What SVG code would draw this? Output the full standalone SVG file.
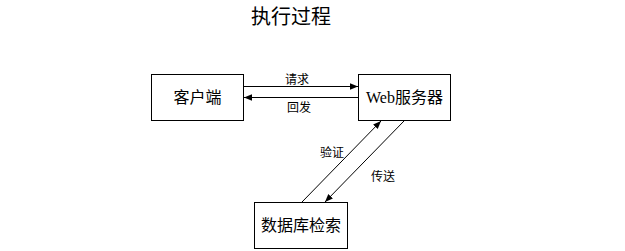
<svg xmlns="http://www.w3.org/2000/svg" width="625" height="251" viewBox="0 0 625 251">
<style>
.box{fill:#fff;stroke:#000;stroke-width:1}
.t{font-family:"Liberation Serif","Noto Sans CJK SC",serif;fill:#000;text-anchor:middle}
.n{font-size:16px}
.l{font-size:12px}
.c{stroke:#000;stroke-width:1;fill:none;marker-end:url(#a)}
</style>
<defs>
<marker id="a" viewBox="0 0 10 10" refX="10" refY="5" markerWidth="8" markerHeight="8" markerUnits="userSpaceOnUse" orient="auto">
<path d="M0,1 L10,5 L0,9 z" fill="#000"/>
</marker>
</defs>
<rect width="625" height="251" fill="#fff"/>
<text class="t" x="291" y="24" font-size="20">执行过程</text>
<g id="client"><rect class="box" x="151.5" y="74.5" width="92" height="46"/><text class="t n" x="197.5" y="103">客户端</text></g>
<g id="web"><rect class="box" x="358.5" y="74.5" width="92" height="46"/><text class="t n" x="404.5" y="103">Web服务器</text></g>
<g id="db"><rect class="box" x="254.5" y="202.5" width="93" height="46"/><text class="t n" x="301" y="231">数据库检索</text></g>
<g id="connectors">
<line class="c" x1="244" y1="86.5" x2="358" y2="86.5"/>
<line class="c" x1="358" y1="97.5" x2="244" y2="97.5"/>
<line class="c" x1="302" y1="202" x2="381" y2="121"/>
<line class="c" x1="404" y1="121" x2="325" y2="202"/>
<text class="t l" x="297" y="84">请求</text>
<text class="t l" x="299" y="112">回发</text>
<text class="t l" x="332" y="157">验证</text>
<text class="t l" x="383" y="181">传送</text>
</g>
</svg>
